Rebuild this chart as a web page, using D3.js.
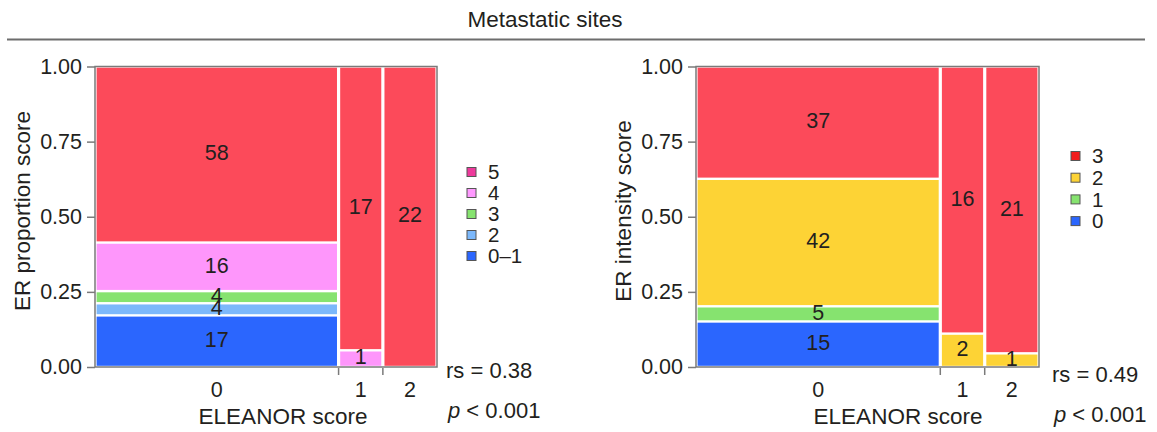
<!DOCTYPE html>
<html>
  <head>
    <meta charset="utf-8" />
    <title>Metastatic sites</title>
    <script src="https://d3js.org/d3.v7.min.js"></script>
    <style>
      body { margin: 0; background: #fff; }
      text { font-family: "Liberation Sans", Arial, sans-serif; fill: #231f20; }
    </style>
  </head>
  <body>
    <svg width="1157" height="432"></svg>
    <script>
      // data
      var eleanorScores = ["0", "1", "2"];

      var proportionCategories = ["0–1", "2", "3", "4", "5"];
      var proportionCounts = [
        [17, 4, 4, 16, 58],
        [0, 0, 0, 1, 17],
        [0, 0, 0, 0, 22],
      ];

      var intensityCategories = ["0", "1", "2", "3"];
      var intensityCounts = [
        [15, 5, 42, 37],
        [0, 0, 2, 16],
        [0, 0, 1, 21],
      ];

      var yTicks = [0, 0.25, 0.5, 0.75, 1];

      var svg = d3.select("svg");

      // header
      svg.append("text")
        .attr("x", 545).attr("y", 27)
        .attr("text-anchor", "middle")
        .attr("font-size", 22.5)
        .text("Metastatic sites");
      svg.append("line")
        .attr("x1", 7).attr("x2", 1145)
        .attr("y1", 39.5).attr("y2", 39.5)
        .attr("stroke", "#6d6d6d").attr("stroke-width", 2);

      function mosaic(opt) {
        var g = svg.append("g");
        var left = opt.left, right = opt.right, top = 66.5, bottom = 367;

        var colTotals = opt.counts.map(function (c) { return d3.sum(c); });
        var cum = [0];
        colTotals.forEach(function (t, i) { cum.push(cum[i] + t); });

        var x = d3.scaleLinear().domain([0, d3.sum(colTotals)]).range([left, right]);
        var y = d3.scaleLinear().domain([0, 1]).range([bottom, top]);

        // frame
        g.append("rect")
          .attr("x", left).attr("y", top)
          .attr("width", right - left).attr("height", bottom - top)
          .attr("fill", "#fff")
          .attr("stroke", "#7a7a7a").attr("stroke-width", 1.5);

        var segs = [];
        opt.counts.forEach(function (col, i) {
          var acc = 0;
          col.forEach(function (n, k) {
            if (n > 0) {
              segs.push({
                col: i, cat: k, n: n,
                x0: x(cum[i]), x1: x(cum[i + 1]),
                f0: acc / colTotals[i], f1: (acc + n) / colTotals[i],
              });
            }
            acc += n;
          });
        });

        g.selectAll(".seg").data(segs).enter().append("rect")
          .attr("class", "seg")
          .attr("x", function (d) { return d.x0 + 1.6; })
          .attr("width", function (d) { return d.x1 - d.x0 - 3.2; })
          .attr("y", function (d) { return y(d.f1) + 1.2; })
          .attr("height", function (d) { return y(d.f0) - y(d.f1) - 2.4; })
          .attr("fill", function (d) { return opt.barColors[d.cat]; });

        g.selectAll(".lab").data(segs).enter().append("text")
          .attr("class", "lab")
          .attr("x", function (d) { return (d.x0 + d.x1) / 2; })
          .attr("y", function (d) { return y((d.f0 + d.f1) / 2) - 2; })
          .attr("dy", "0.36em")
          .attr("text-anchor", "middle")
          .attr("font-size", 21.5)
          .text(function (d) { return d.n; });

        // y axis
        var ax = g.append("g")
          .attr("transform", "translate(" + left + ",0)")
          .call(d3.axisLeft(y).tickValues(yTicks).tickFormat(d3.format(".2f")).tickSize(8).tickPadding(5));
        ax.select(".domain").remove();
        ax.selectAll("line").attr("stroke", "#7a7a7a").attr("stroke-width", 1.5);
        ax.selectAll("text")
          .attr("font-size", 21.5)
          .attr("font-family", "Liberation Sans, Arial, sans-serif")
          .attr("fill", "#231f20");

        // x ticks at column boundaries, labels at column centres
        g.selectAll(".xt").data(cum.slice(1, -1)).enter().append("line")
          .attr("x1", function (d) { return x(d); }).attr("x2", function (d) { return x(d); })
          .attr("y1", bottom + 1).attr("y2", bottom + 8)
          .attr("stroke", "#7a7a7a").attr("stroke-width", 1.5);
        g.selectAll(".xl").data(eleanorScores).enter().append("text")
          .attr("x", function (d, i) { return x((cum[i] + cum[i + 1]) / 2); })
          .attr("y", 397)
          .attr("text-anchor", "middle")
          .attr("font-size", 21.5)
          .text(function (d) { return d; });

        g.append("text")
          .attr("x", opt.xTitleX).attr("y", 424)
          .attr("text-anchor", "middle")
          .attr("font-size", 22.5)
          .text("ELEANOR score");
        g.append("text")
          .attr("transform", "translate(" + (left - 65) + "," + 211 + ") rotate(-90)")
          .attr("text-anchor", "middle")
          .attr("font-size", 22.5)
          .text(opt.yTitle);

        // legend, highest category on top
        var leg = g.selectAll(".leg").data(opt.categories.slice().reverse()).enter().append("g")
          .attr("transform", function (d, i) {
            return "translate(" + opt.legendX + "," + (opt.legendY + i * opt.legendStep) + ")";
          });
        leg.append("rect")
          .attr("x", 0).attr("y", -4.5)
          .attr("width", 9).attr("height", 9)
          .attr("fill", function (d, i) { return opt.legendColors[opt.categories.length - 1 - i]; })
          .attr("stroke", "#555").attr("stroke-width", 1);
        leg.append("text")
          .attr("x", 21).attr("dy", "0.36em")
          .attr("font-size", 20.5)
          .text(function (d) { return d; });

        // stats
        g.append("text")
          .attr("x", opt.statsX).attr("y", opt.rsY)
          .attr("font-size", 22)
          .text("rs = " + opt.rs);
        var pt = g.append("text")
          .attr("x", opt.statsX + 2).attr("y", opt.rsY + 40)
          .attr("font-size", 22);
        pt.append("tspan").attr("font-style", "italic").text("p");
        pt.append("tspan").text(" < 0.001");
      }

      mosaic({
        left: 95, right: 437,
        counts: proportionCounts,
        categories: proportionCategories,
        barColors: ["#2b66fe", "#7cb8fb", "#86e36f", "#fe96fb", "#fc4a5a"],
        legendColors: ["#2b66fe", "#7cb8fb", "#86e36f", "#ff99ff", "#ee3a9c"],
        legendX: 467, legendY: 172, legendStep: 21,
        yTitle: "ER proportion score",
        xTitleX: 283,
        statsX: 446, rsY: 378, rs: "0.38",
      });

      mosaic({
        left: 696, right: 1039,
        counts: intensityCounts,
        categories: intensityCategories,
        barColors: ["#2b66fe", "#86e36f", "#fdd335", "#fc4a5a"],
        legendColors: ["#2b66fe", "#86e36f", "#fdd335", "#f21c1c"],
        legendX: 1071, legendY: 156, legendStep: 21.7,
        yTitle: "ER intensity score",
        xTitleX: 898,
        statsX: 1052, rsY: 382, rs: "0.49",
      });
    </script>
  </body>
</html>
